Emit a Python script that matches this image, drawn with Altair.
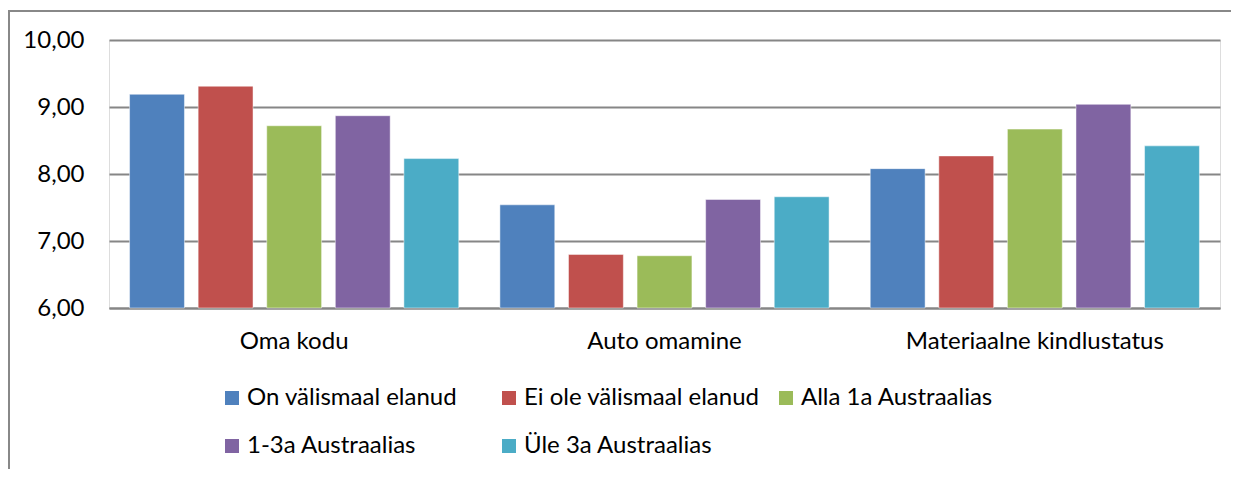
import altair as alt
import pandas as pd

categories = ["Oma kodu", "Auto omamine", "Materiaalne kindlustatus"]
series = ["On välismaal elanud", "Ei ole välismaal elanud", "Alla 1a Austraalias",
          "1-3a Austraalias", "Üle 3a Austraalias"]
colors = ["#4F81BD", "#C0504D", "#9BBB59", "#8064A2", "#4BACC6"]
values = {
    "On välismaal elanud": [9.19, 7.54, 8.08],
    "Ei ole välismaal elanud": [9.31, 6.80, 8.27],
    "Alla 1a Austraalias": [8.72, 6.78, 8.67],
    "1-3a Austraalias": [8.87, 7.62, 9.04],
    "Üle 3a Austraalias": [8.23, 7.66, 8.42],
}
y_ticks = [6, 7, 8, 9, 10]
y_min = 6

rows = []
for s in series:
    for c, v in zip(categories, values[s]):
        rows.append({"cat": c, "series": s, "value": v})
df = pd.DataFrame(rows)

FONT = "Lato"
W, H = 1111, 268
PAD_L, PAD_T, PAD_R, PAD_B = 101, 32, 11, 161

bars = alt.Chart(df).mark_bar(stroke="white", strokeWidth=0.8, strokeOpacity=0.6).encode(
    x=alt.X("cat:N", sort=categories,
            scale=alt.Scale(paddingInner=0, paddingOuter=0),
            axis=alt.Axis(title=None, labelAngle=0, ticks=False, domain=True,
                          domainColor="#868686", domainWidth=1.8,
                          labelFontSize=24, labelFont=FONT, labelColor="black",
                          labelPadding=21, labelLimit=0, grid=False)),
    xOffset=alt.XOffset("series:N", sort=series,
                        scale=alt.Scale(paddingInner=0.2, paddingOuter=0.3)),
    y=alt.Y("value:Q", scale=alt.Scale(domain=[6, 10], nice=False, zero=False),
            axis=alt.Axis(title=None, values=y_ticks, ticks=False, domain=False,
                          grid=True, gridColor="#868686", gridWidth=1.8,
                          labelExpr="replace(format(datum.value, '.2f'), '.', ',')",
                          labelFontSize=24, labelFont=FONT, labelColor="black",
                          labelPadding=25)),
    y2=alt.datum(y_min),
    color=alt.Color("series:N", sort=series,
                    scale=alt.Scale(domain=series, range=colors),
                    legend=alt.Legend(title=None, orient="none", legendX=111, legendY=346,
                                      columns=3, direction="horizontal", padding=0,
                                      gridAlign="all",
                                      symbolType="square",
                                      symbolSize=196, symbolStrokeWidth=0,
                                      labelFontSize=24, labelFont=FONT, labelColor="black",
                                      labelOffset=3, columnPadding=14, rowPadding=24,
                                      labelLimit=400)),
)

frame = alt.Chart(pd.DataFrame({"a": [0]})).mark_rect(
    filled=False, stroke="#888888", strokeWidth=2
).encode(
    x=alt.value(-PAD_L + 1), x2=alt.value(W + 100),
    y=alt.value(-PAD_T + 3), y2=alt.value(H + 300),
)

chart = alt.layer(frame, bars).properties(
    width=W, height=H,
    autosize=alt.AutoSizeParams(type="none"),
    padding={"left": PAD_L, "top": PAD_T, "right": PAD_R, "bottom": PAD_B},
).configure_view(stroke=None).configure(background="white")

chart.save("out.html", embed_options={"renderer": "svg", "actions": False})
